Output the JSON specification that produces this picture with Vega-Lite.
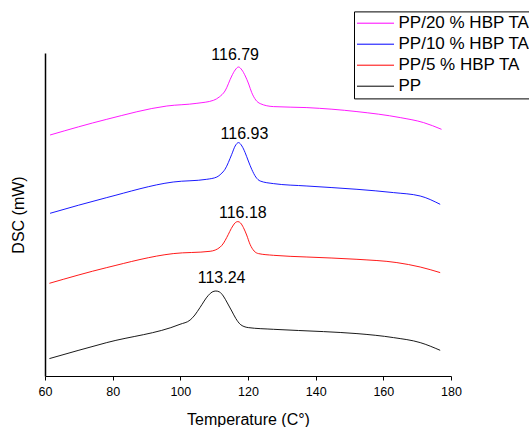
{
  "$schema": "https://vega.github.io/schema/vega-lite/v6.json",
  "width": 406,
  "height": 323,
  "autosize": {"type": "none"},
  "padding": {"left": 45, "top": 53, "right": 78, "bottom": 51},
  "background": "white",
  "config": {"view": {"stroke": null}, "font": "Liberation Sans"},
  "datasets": {
    "curves": [
      {"s": "PP/20 % HBP TA", "T": 61.5, "v": 241},
      {"s": "PP/20 % HBP TA", "T": 78.25, "v": 256.7},
      {"s": "PP/20 % HBP TA", "T": 96.0, "v": 270},
      {"s": "PP/20 % HBP TA", "T": 104.9, "v": 272.7},
      {"s": "PP/20 % HBP TA", "T": 109.8, "v": 275.7},
      {"s": "PP/20 % HBP TA", "T": 111.5, "v": 279},
      {"s": "PP/20 % HBP TA", "T": 113.2, "v": 285},
      {"s": "PP/20 % HBP TA", "T": 115.2, "v": 300},
      {"s": "PP/20 % HBP TA", "T": 116.2, "v": 306},
      {"s": "PP/20 % HBP TA", "T": 117.2, "v": 309},
      {"s": "PP/20 % HBP TA", "T": 118.2, "v": 306},
      {"s": "PP/20 % HBP TA", "T": 119.2, "v": 300},
      {"s": "PP/20 % HBP TA", "T": 120.2, "v": 292},
      {"s": "PP/20 % HBP TA", "T": 121.1, "v": 283.4},
      {"s": "PP/20 % HBP TA", "T": 122.3, "v": 276},
      {"s": "PP/20 % HBP TA", "T": 123.6, "v": 272.4},
      {"s": "PP/20 % HBP TA", "T": 127.5, "v": 269.4},
      {"s": "PP/20 % HBP TA", "T": 137.4, "v": 268.4},
      {"s": "PP/20 % HBP TA", "T": 152.2, "v": 264.4},
      {"s": "PP/20 % HBP TA", "T": 165.0, "v": 258.4},
      {"s": "PP/20 % HBP TA", "T": 171.9, "v": 253.4},
      {"s": "PP/20 % HBP TA", "T": 177.2, "v": 246.7},

      {"s": "PP/10 % HBP TA", "T": 61.5, "v": 162.7},
      {"s": "PP/10 % HBP TA", "T": 78.25, "v": 178.4},
      {"s": "PP/10 % HBP TA", "T": 97.9, "v": 194},
      {"s": "PP/10 % HBP TA", "T": 107.8, "v": 196.7},
      {"s": "PP/10 % HBP TA", "T": 110.8, "v": 199},
      {"s": "PP/10 % HBP TA", "T": 112.0, "v": 202},
      {"s": "PP/10 % HBP TA", "T": 113.2, "v": 206.7},
      {"s": "PP/10 % HBP TA", "T": 115.2, "v": 221.7},
      {"s": "PP/10 % HBP TA", "T": 116.2, "v": 230},
      {"s": "PP/10 % HBP TA", "T": 117.2, "v": 233.4},
      {"s": "PP/10 % HBP TA", "T": 118.2, "v": 230},
      {"s": "PP/10 % HBP TA", "T": 119.15, "v": 223.4},
      {"s": "PP/10 % HBP TA", "T": 120.1, "v": 215},
      {"s": "PP/10 % HBP TA", "T": 121.1, "v": 206.7},
      {"s": "PP/10 % HBP TA", "T": 122.3, "v": 199},
      {"s": "PP/10 % HBP TA", "T": 123.6, "v": 195},
      {"s": "PP/10 % HBP TA", "T": 127.5, "v": 192.4},
      {"s": "PP/10 % HBP TA", "T": 137.4, "v": 190},
      {"s": "PP/10 % HBP TA", "T": 152.2, "v": 186.7},
      {"s": "PP/10 % HBP TA", "T": 163.0, "v": 183.4},
      {"s": "PP/10 % HBP TA", "T": 170.9, "v": 180},
      {"s": "PP/10 % HBP TA", "T": 176.8, "v": 171.7},

      {"s": "PP/5 % HBP TA", "T": 61.3, "v": 92.7},
      {"s": "PP/5 % HBP TA", "T": 78.25, "v": 108.4},
      {"s": "PP/5 % HBP TA", "T": 97.9, "v": 122.4},
      {"s": "PP/5 % HBP TA", "T": 108.8, "v": 124.7},
      {"s": "PP/5 % HBP TA", "T": 111.8, "v": 129},
      {"s": "PP/5 % HBP TA", "T": 112.8, "v": 133},
      {"s": "PP/5 % HBP TA", "T": 113.7, "v": 138.4},
      {"s": "PP/5 % HBP TA", "T": 115.5, "v": 150},
      {"s": "PP/5 % HBP TA", "T": 116.3, "v": 153.5},
      {"s": "PP/5 % HBP TA", "T": 117.0, "v": 154.4},
      {"s": "PP/5 % HBP TA", "T": 117.8, "v": 153},
      {"s": "PP/5 % HBP TA", "T": 118.65, "v": 148.4},
      {"s": "PP/5 % HBP TA", "T": 119.6, "v": 141},
      {"s": "PP/5 % HBP TA", "T": 120.6, "v": 131.7},
      {"s": "PP/5 % HBP TA", "T": 121.8, "v": 125},
      {"s": "PP/5 % HBP TA", "T": 123.1, "v": 122.4},
      {"s": "PP/5 % HBP TA", "T": 127.5, "v": 120.7},
      {"s": "PP/5 % HBP TA", "T": 137.4, "v": 119},
      {"s": "PP/5 % HBP TA", "T": 152.2, "v": 116.7},
      {"s": "PP/5 % HBP TA", "T": 164.0, "v": 113.4},
      {"s": "PP/5 % HBP TA", "T": 170.9, "v": 109},
      {"s": "PP/5 % HBP TA", "T": 176.8, "v": 103.4},

      {"s": "PP", "T": 61.3, "v": 17.4},
      {"s": "PP", "T": 78.25, "v": 33.4},
      {"s": "PP", "T": 99.9, "v": 51.7},
      {"s": "PP", "T": 102.9, "v": 56},
      {"s": "PP", "T": 104.3, "v": 61},
      {"s": "PP", "T": 105.8, "v": 68.4},
      {"s": "PP", "T": 108.3, "v": 80.7},
      {"s": "PP", "T": 109.4, "v": 84},
      {"s": "PP", "T": 110.5, "v": 85},
      {"s": "PP", "T": 111.6, "v": 84},
      {"s": "PP", "T": 112.7, "v": 80},
      {"s": "PP", "T": 113.9, "v": 73},
      {"s": "PP", "T": 115.2, "v": 65},
      {"s": "PP", "T": 116.4, "v": 57.5},
      {"s": "PP", "T": 117.7, "v": 51.7},
      {"s": "PP", "T": 118.8, "v": 49.5},
      {"s": "PP", "T": 120.1, "v": 48.4},
      {"s": "PP", "T": 127.5, "v": 46.7},
      {"s": "PP", "T": 142.3, "v": 44.4},
      {"s": "PP", "T": 152.2, "v": 42.4},
      {"s": "PP", "T": 163.0, "v": 38.4},
      {"s": "PP", "T": 170.9, "v": 33.4},
      {"s": "PP", "T": 176.8, "v": 25.7}
    ],
    "labels": [
      {"txt": "116.79", "T": 116.2, "v": 320.7},
      {"txt": "116.93", "T": 118.96, "v": 242.4},
      {"txt": "116.18", "T": 118.48, "v": 163.4},
      {"txt": "113.24", "T": 112.2, "v": 98.4}
    ]
  },
  "layer": [
    {
      "data": {"name": "curves"},
      "mark": {"type": "line", "interpolate": "monotone", "strokeWidth": 0.9},
      "encoding": {
        "x": {
          "field": "T", "type": "quantitative",
          "scale": {"domain": [60, 180], "nice": false, "zero": false},
          "axis": {
            "title": "Temperature (C°)",
            "values": [60, 70, 80, 90, 100, 110, 120, 130, 140, 150, 160, 170, 180],
            "labelExpr": "datum.value % 20 == 0 ? datum.label : ''",
            "labelFlush": false,
            "labelOverlap": false,
            "grid": false,
            "domainColor": "black", "domainWidth": 1.2,
            "tickColor": "black", "tickSize": 4, "tickWidth": 1,
            "labelFont": "Liberation Sans", "labelFontSize": 12.5, "labelColor": "black",
            "labelPadding": 5,
            "titleFont": "Liberation Sans", "titleFontSize": 16, "titleFontWeight": "normal",
            "titleColor": "black", "titlePadding": 14
          }
        },
        "y": {
          "field": "v", "type": "quantitative",
          "scale": {"domain": [0, 323], "nice": false, "zero": false},
          "axis": {
            "title": "DSC (mW)",
            "ticks": false, "labels": false, "grid": false,
            "domainColor": "black", "domainWidth": 1.5,
            "titleFont": "Liberation Sans", "titleFontSize": 16, "titleFontWeight": "normal",
            "titleColor": "black", "titlePadding": 19
          }
        },
        "color": {
          "field": "s", "type": "nominal",
          "scale": {
            "domain": ["PP/20 % HBP TA", "PP/10 % HBP TA", "PP/5 % HBP TA", "PP"],
            "range": ["#ff00ff", "#0000ff", "#ff0000", "#000000"]
          },
          "legend": {
            "title": null,
            "orient": "none",
            "legendX": 309,
            "legendY": -41.6,
            "symbolType": "stroke",
            "symbolSize": 1369,
            "symbolStrokeWidth": 1,
            "clipHeight": 18.6,
            "rowPadding": 2,
            "labelFont": "Liberation Sans",
            "labelFontSize": 17,
            "labelColor": "black",
            "labelOffset": 4,
            "labelLimit": 300,
            "strokeColor": "black",
            "fillColor": "white",
            "padding": 2.5
          }
        }
      }
    },
    {
      "data": {"name": "labels"},
      "mark": {"type": "text", "fontSize": 16, "font": "Liberation Sans", "baseline": "middle", "align": "center", "color": "black"},
      "encoding": {
        "x": {"field": "T", "type": "quantitative"},
        "y": {"field": "v", "type": "quantitative"},
        "text": {"field": "txt"}
      }
    }
  ]
}
